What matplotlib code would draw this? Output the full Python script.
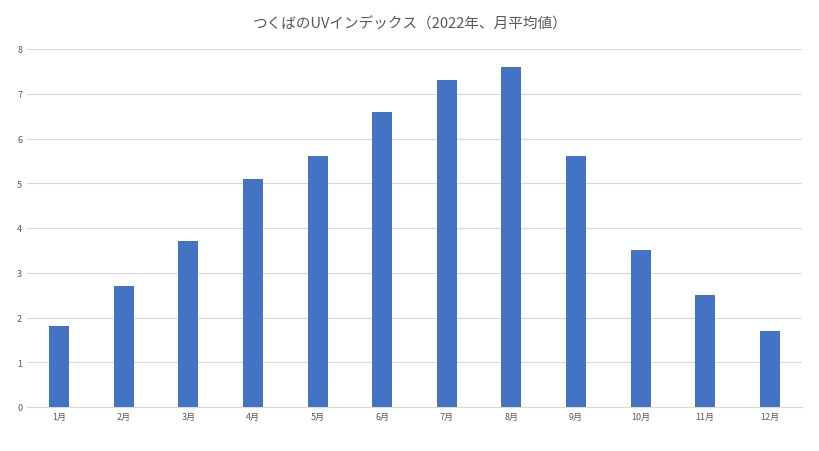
import matplotlib
matplotlib.use("Agg")
import matplotlib.pyplot as plt

months = ["1月","2月","3月","4月","5月","6月","7月","8月","9月","10月","11月","12月"]
uv = [1.8, 2.7, 3.7, 5.1, 5.6, 6.6, 7.3, 7.6, 5.6, 3.5, 2.5, 1.7]

plt.rcParams['font.family'] = ['Noto Sans CJK JP', 'DejaVu Sans']
fig = plt.figure(figsize=(8.2, 4.52), dpi=100)
ax = fig.add_axes([27/820, 1-408/452, 775/820, 358/452])
x = range(len(months))
ax.bar(x, uv, width=0.31, color="#4472C4", zorder=3)
ax.set_xlim(-0.5, 11.5)
ax.set_ylim(0, 8)
ax.set_yticks(range(0, 9))
ax.set_xticks(list(x))
ax.set_xticklabels(months)
ax.tick_params(axis='both', length=0, labelsize=6.5, colors="#595959")
ax.grid(axis='y', color="#D9D9D9", linewidth=0.8, zorder=0)
for s in ["top", "right", "left"]:
    ax.spines[s].set_visible(False)
ax.spines["bottom"].set_color("#D9D9D9")
fig.text(0.5, 1-24/452, "つくばのUVインデックス（2022年、月平均値）", ha="center", va="center",
         fontsize=10.5, color="#595959")
fig.savefig("out.png", dpi=100)
